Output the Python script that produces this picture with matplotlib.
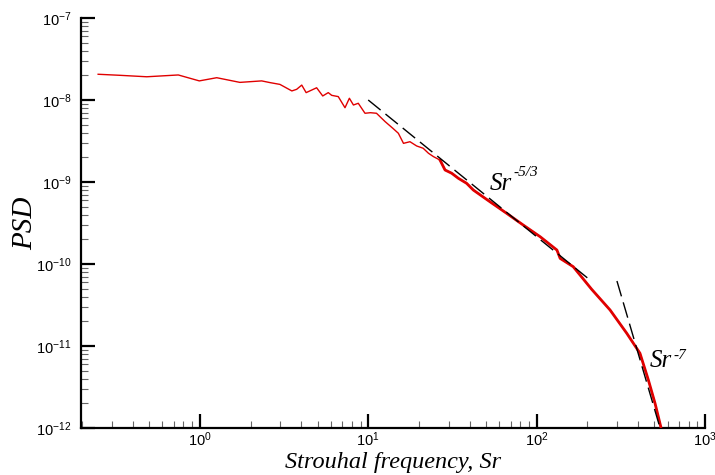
import numpy as np
import matplotlib.pyplot as plt
from matplotlib.ticker import LogLocator, FuncFormatter, NullFormatter

# spectrum
sr = [0.249, 0.336, 0.484, 0.745, 0.993, 1.26, 1.73, 2.33, 2.61, 2.99,
      3.52, 3.76, 4.03, 4.28, 4.94, 5.37, 5.79, 6.07, 6.64, 7.28,
      7.73, 8.17, 8.73, 9.57, 10.3, 11.2, 12.6, 14.0, 15.1, 16.2,
      17.7, 19.4, 21.2, 22.8, 24.4, 26.7, 28.6, 31.3, 34.3, 38.4,
      42.1, 52.8, 66.4, 83.2, 105, 132, 138, 165, 181, 212, 273,
      343, 411, 461, 505, 546]
psd = [2.06e-8, 2.00e-8, 1.92e-8, 2.02e-8, 1.71e-8, 1.87e-8, 1.64e-8, 1.71e-8, 1.63e-8, 1.55e-8,
       1.29e-8, 1.35e-8, 1.52e-8, 1.23e-8, 1.41e-8, 1.12e-8, 1.23e-8, 1.14e-8, 1.10e-8, 8.05e-9,
       1.05e-8, 8.69e-9, 9.12e-9, 6.89e-9, 7.00e-9, 6.89e-9, 5.45e-9, 4.52e-9, 3.93e-9, 2.96e-9,
       3.10e-9, 2.75e-9, 2.58e-9, 2.24e-9, 2.04e-9, 1.85e-9, 1.40e-9, 1.28e-9, 1.11e-9, 9.64e-10,
       7.98e-10, 5.75e-10, 4.15e-10, 2.99e-10, 2.15e-10, 1.48e-10, 1.17e-10, 9.27e-11, 7.35e-11, 4.93e-11, 2.75e-11,
       1.43e-11, 8.15e-12, 3.85e-12, 2.00e-12, 1.04e-12]

# reference slopes
sr_a = [10, 200]
psd_a = [1e-8 * (s / 10) ** (-5 / 3) for s in sr_a]
sr_b = [300, 560]
psd_b = [1e-12 * (s / 541) ** (-7) for s in sr_b]

plt.rcParams['lines.scale_dashes'] = False

fig = plt.figure(figsize=(7.15, 4.75), dpi=100)
ax = fig.add_axes([81 / 715, 47 / 475, 624 / 715, 410 / 475])

ax.plot(sr, psd, color='#e00000', lw=1.0, zorder=3)
# noisy high-frequency part looks thicker in the original
hi = [i for i, s in enumerate(sr) if s >= 25]
ax.plot([sr[i] for i in hi], [psd[i] for i in hi], color='#e00000', lw=2.0, zorder=3)
ax.plot(sr_a, psd_a, color='black', lw=1.0, dashes=(11.5, 4.5), zorder=4)
ax.plot(sr_b, psd_b, color='black', lw=1.0, dashes=(11.5, 4.5), zorder=4)

ax.set_xscale('log')
ax.set_yscale('log')
ax.set_xlim(0.197, 1000)
ax.set_ylim(1e-12, 1e-7)

for s in ['top', 'right']:
    ax.spines[s].set_visible(False)
for s in ['left', 'bottom']:
    ax.spines[s].set_linewidth(1.6)

ax.xaxis.set_major_locator(LogLocator(base=10, numticks=10))
ax.yaxis.set_major_locator(LogLocator(base=10, numticks=10))
ax.xaxis.set_minor_locator(LogLocator(base=10, subs=np.arange(2, 10), numticks=20))
ax.yaxis.set_minor_locator(LogLocator(base=10, subs=np.arange(2, 10), numticks=20))
fmt = FuncFormatter(lambda v, p: r'$\mathregular{10^{%d}}$' % round(np.log10(v)))
ax.xaxis.set_major_formatter(fmt)
ax.yaxis.set_major_formatter(fmt)
ax.xaxis.set_minor_formatter(NullFormatter())
ax.yaxis.set_minor_formatter(NullFormatter())

ax.tick_params(which='major', direction='in', length=10, width=1.6, labelsize=10.5)
ax.tick_params(axis='x', which='major', pad=2)
ax.tick_params(axis='y', which='major', pad=7)
ax.tick_params(which='minor', direction='in', length=5, width=0.8, color='#666666')
for lab in ax.get_xticklabels() + ax.get_yticklabels():
    lab.set_fontfamily('Liberation Sans')

ax.set_xlabel('Strouhal frequency, Sr', family='Liberation Serif', style='italic', fontsize=17.5, va='center')
ax.set_ylabel('PSD', family='Liberation Serif', style='italic', fontsize=21, va='center')
ax.xaxis.set_label_coords(0.5, -0.083)
ax.yaxis.set_label_coords(-0.09, 0.5)

t1 = ax.text(52.9, 8.0e-10, 'Sr', family='Liberation Serif', style='italic', fontsize=18)
ax.annotate('-5/3', xy=(1, 1), xycoords=t1, xytext=(1, 5), textcoords='offset points',
            family='Liberation Serif', style='italic', fontsize=11, va='top')
t2 = ax.text(471, 5.5e-12, 'Sr', family='Liberation Serif', style='italic', fontsize=18)
ax.annotate('-7', xy=(1, 1), xycoords=t2, xytext=(1, 1), textcoords='offset points',
            family='Liberation Serif', style='italic', fontsize=11, va='top')

fig.savefig('out.png', dpi=100)
